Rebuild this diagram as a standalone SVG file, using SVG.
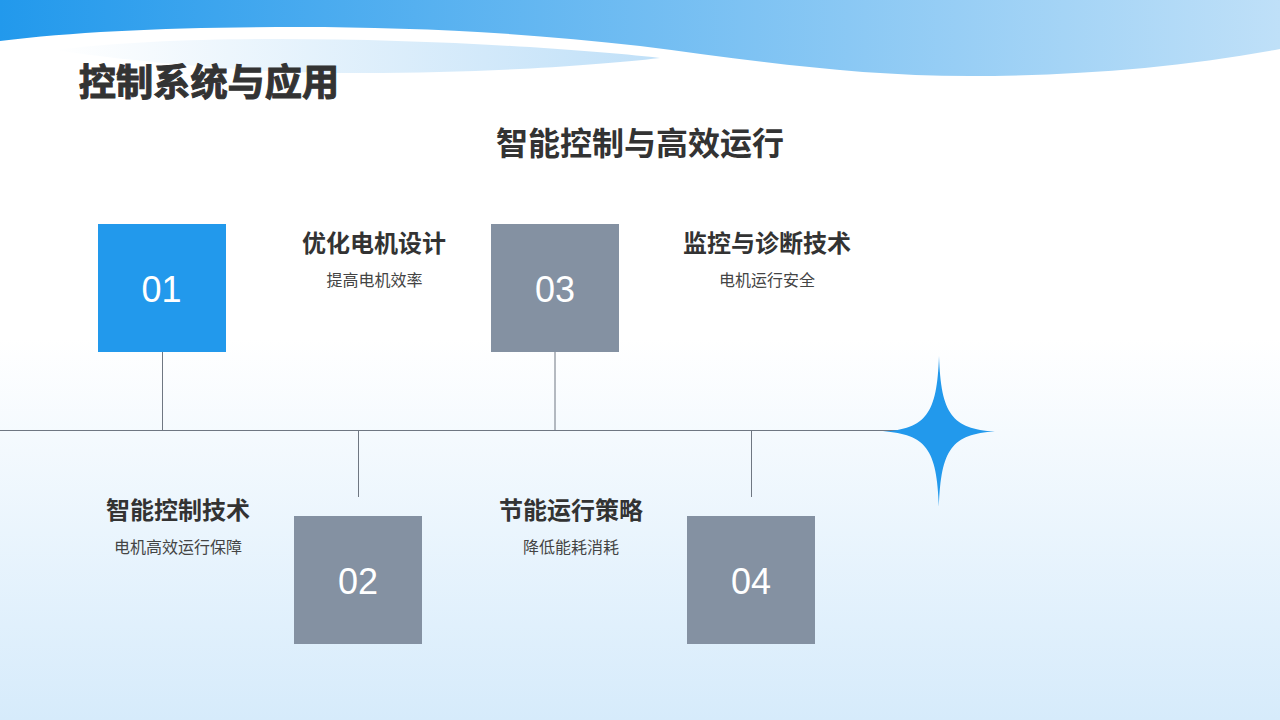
<svg xmlns="http://www.w3.org/2000/svg" width="1280" height="720" viewBox="0 0 1280 720">
<style>
text{font-family:"Liberation Sans","Noto Sans CJK SC",sans-serif;text-anchor:middle}
.h{font-size:24px;font-weight:700;fill:#333}
.s{font-size:16px;fill:#444}
.n{font-size:36px;fill:#fff}
.c{stroke:#6f7782;stroke-width:1;fill:none}
</style>
<defs>
<linearGradient id="bg" x1="0" y1="0" x2="0" y2="1"><stop offset="0" stop-color="#fff"/><stop offset="0.47" stop-color="#fff"/><stop offset="1" stop-color="#d6ebfb"/></linearGradient>
<linearGradient id="w1" x1="0" y1="0" x2="1" y2="0"><stop offset="0" stop-color="#2299ec"/><stop offset="1" stop-color="#bfe0f8"/></linearGradient>
<linearGradient id="w2" x1="0" y1="0" x2="1" y2="0"><stop offset="0" stop-color="#fff"/><stop offset="1" stop-color="#c0e0f8"/></linearGradient>
</defs>
<rect width="1280" height="720" fill="url(#bg)"/>
<path d="M0 0H1280V49C1180 68 1070 76 970 76C850 76 750 60 640 46C520 32 400 27 300 27C180 27 80 31 0 41Z" fill="url(#w1)"/>
<path d="M55 50C120 42 200 39 280 39C420 39 570 48 660 58C590 66 470 74 340 73C240 72 120 60 55 50Z" fill="url(#w2)"/>
<text x="209" y="96" font-size="37.200" font-weight="700" fill="#333" stroke="#333" stroke-width="1">控制系统与应用</text>
<text x="640" y="155" font-size="32" font-weight="700" fill="#333">智能控制与高效运行</text>
<g id="connectors">
<path class="c" d="M0 430.500H900M162.500 352V431M358.500 431V497M555 352V431M751.500 431V497"/>
</g>
<g id="star"><path d="M939 356C941 414 952 429 995 431.500C952 434 941 449 939 507C937 449 926 434 883 431.500C926 429 937 414 939 356Z" fill="#2299ec"/></g>
<g id="node-01"><rect x="98" y="224" width="128" height="128" fill="#2299ec"/><text class="n" x="161.500" y="302">01</text></g>
<g id="node-02"><rect x="294" y="516" width="128" height="128" fill="#8491a2"/><text class="n" x="358" y="594">02</text></g>
<g id="node-03"><rect x="491" y="224" width="128" height="128" fill="#8491a2"/><text class="n" x="555" y="302">03</text></g>
<g id="node-04"><rect x="687" y="516" width="128" height="128" fill="#8491a2"/><text class="n" x="751" y="594">04</text></g>
<g id="label-01"><text class="h" x="374" y="252">优化电机设计</text><text class="s" x="374.500" y="286">提高电机效率</text></g>
<g id="label-02"><text class="h" x="178" y="519">智能控制技术</text><text class="s" x="178" y="553">电机高效运行保障</text></g>
<g id="label-03"><text class="h" x="767" y="252">监控与诊断技术</text><text class="s" x="767" y="286">电机运行安全</text></g>
<g id="label-04"><text class="h" x="571" y="519">节能运行策略</text><text class="s" x="571" y="553">降低能耗消耗</text></g>
</svg>
